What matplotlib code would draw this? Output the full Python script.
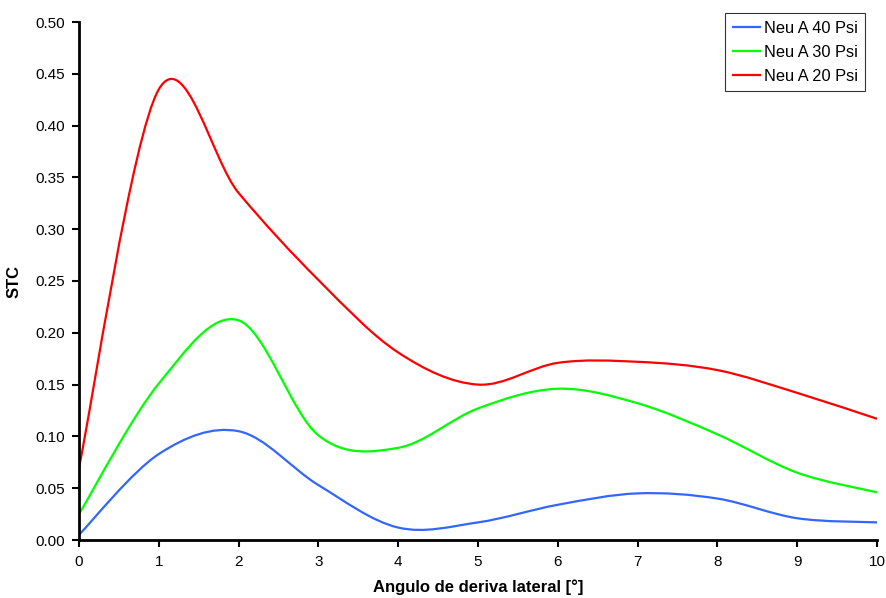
import numpy as np
import matplotlib
matplotlib.use("Agg")
from matplotlib import pyplot as plt
from matplotlib.path import Path
from matplotlib.patches import PathPatch
from matplotlib.lines import Line2D

plt.rcParams['font.family'] = ['Liberation Sans', 'DejaVu Sans']

# data
angle = [0, 1, 2, 3, 4, 5, 6, 7, 8, 9, 10]
stc_40 = [0.005, 0.083, 0.105, 0.053, 0.012, 0.017, 0.034, 0.045, 0.040, 0.021, 0.017]
stc_30 = [0.025, 0.151, 0.212, 0.101, 0.089, 0.127, 0.146, 0.132, 0.102, 0.065, 0.046]
stc_20 = [0.070, 0.435, 0.335, 0.251, 0.181, 0.150, 0.171, 0.172, 0.164, 0.142, 0.117]
labels = ['Neu A 40 Psi', 'Neu A 30 Psi', 'Neu A 20 Psi']
colors = ['#3366FF', '#00FF00', '#FF0000']


def smooth_path(x, y):
    # Excel style smoothed line: cubic bezier with Catmull-Rom control points
    pts = np.column_stack([x, y]).astype(float)
    n = len(pts)
    verts = [pts[0]]
    codes = [Path.MOVETO]
    for i in range(n - 1):
        p0 = pts[max(i - 1, 0)]
        p1 = pts[i]
        p2 = pts[i + 1]
        p3 = pts[min(i + 2, n - 1)]
        c1 = p1 + (p2 - p0) / 6.0
        c2 = p2 - (p3 - p1) / 6.0
        verts += [c1, c2, p2]
        codes += [Path.CURVE4] * 3
    return Path(verts, codes)


fig = plt.figure(figsize=(8.87, 5.98), dpi=100)
ax = fig.add_axes([79 / 887, 58 / 598, 798 / 887, 518 / 598])

handles = []
for ys, lab, col in zip([stc_40, stc_30, stc_20], labels, colors):
    patch = PathPatch(smooth_path(angle, ys), facecolor='none', edgecolor=col,
                      lw=1.6, capstyle='butt', joinstyle='round')
    ax.add_patch(patch)
    handles.append(Line2D([], [], color=col, lw=1.6, label=lab))

ax.set_xlim(0, 10)
ax.set_ylim(0, 0.5)
ax.set_xticks(range(0, 11))
ax.set_yticks(np.arange(0, 0.51, 0.05))
ax.set_yticklabels(['%.2f' % v for v in np.arange(0, 0.51, 0.05)])
ax.tick_params(direction='out', length=5, width=1.5, labelsize=11, colors='black')
ax.tick_params(axis='x', pad=6)
ax.tick_params(axis='y', pad=5)
for side in ['top', 'right']:
    ax.spines[side].set_visible(False)
for side in ['left', 'bottom']:
    ax.spines[side].set_linewidth(2)
ax.set_xlabel('Angulo de deriva lateral [°]', fontsize=12, fontweight='bold', labelpad=7)
ax.set_ylabel('STC', fontsize=12, fontweight='bold', labelpad=10)

leg = ax.legend(handles=handles, loc='upper right', bbox_to_anchor=(0.985, 1.017),
                frameon=True, fancybox=False, edgecolor='black', fontsize=11.8,
                handlelength=1.7, handletextpad=0.2, borderpad=0.45, labelspacing=0.55,
                borderaxespad=0)
leg.get_frame().set_linewidth(0.8)

fig.savefig('out.png', dpi=100)
